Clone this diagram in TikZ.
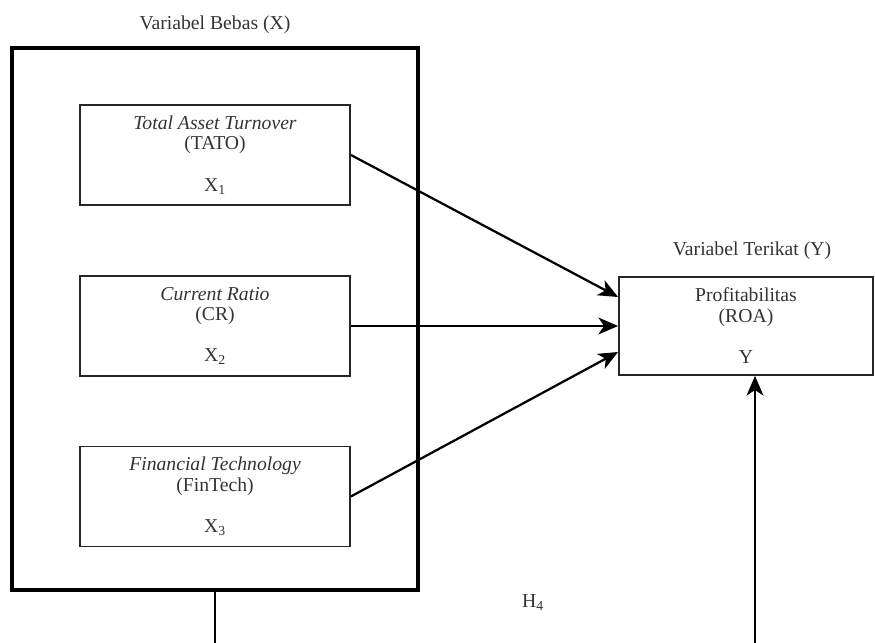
\documentclass[tikz,border=0pt]{standalone}
\usepackage{fontspec}
\setmainfont{Liberation Serif}
\usepackage{tikz}
\usetikzlibrary{positioning}
\usetikzlibrary{arrows.meta}

\begin{document}
\begin{tikzpicture}[
							outerbox/.style={draw=black, line width=3pt, minimum width=10.15cm, minimum height=13.55cm},
							varbox/.style={draw=black!85, line width=1.3pt, align=center, text=black!80, font=\fontsize{14}{14.5}\selectfont, minimum width=6.75cm, minimum height=2.5cm},
							depbox/.style={varbox, minimum width=6.35cm, minimum height=2.45cm},
							plainlabel/.style={text=black!80, font=\fontsize{14}{14.5}\selectfont},
							arrowline/.style={line width=1.6pt, -{Stealth[length=14pt, width=12pt, inset=4pt]}},
							]
							\useasboundingbox (0,0) rectangle (21.875,16.075);
							%Nodes
							\node[outerbox]      (bebas) 	at 	(5.375,8.1)      {};
							\node[plainlabel]    (lbebas) 	[above=0.175cm of bebas] 	{Variabel Bebas (X)};
							\node[varbox]        (tato) 	at 	(5.375,12.2)     {\textit{Total Asset Turnover}\\(TATO)\\[15pt]X\textsubscript{1}};
							\node[varbox]        (cr) 	at 	(5.375,7.925)    {\textit{Current Ratio}\\(CR)\\[15pt]X\textsubscript{2}};
							\node[varbox]        (fintech) 	at 	(5.375,3.6625)   {\textit{Financial Technology}\\(FinTech)\\[15pt]X\textsubscript{3}};
							\node[depbox]        (roa) 	at 	(18.65,7.925)    {Profitabilitas\\(ROA)\\[15pt]Y};
							\node[plainlabel]    (lterikat) 	[above=0.275cm of roa, xshift=0.15cm] 	{Variabel Terikat (Y)};
							\node[plainlabel]    (hfour) 	at 	(13.325,1.0)     {H\textsubscript{4}};
							\coordinate          (xout) 	at 	(5.375,0);
							\coordinate          (yin) 	at 	(18.875,0);
							
							%Lines
							\draw[arrowline] (tato.east) --  ([yshift=0.725cm]roa.west);
							\draw[arrowline] (cr.east) --  (roa.west);
							\draw[arrowline] (fintech.east) --  ([yshift=-0.65cm]roa.west);
							\draw[line width=1.6pt] (bebas.south) --  (xout);
							\draw[arrowline] (yin) --  (yin |- roa.south);
						\end{tikzpicture}
\end{document}
